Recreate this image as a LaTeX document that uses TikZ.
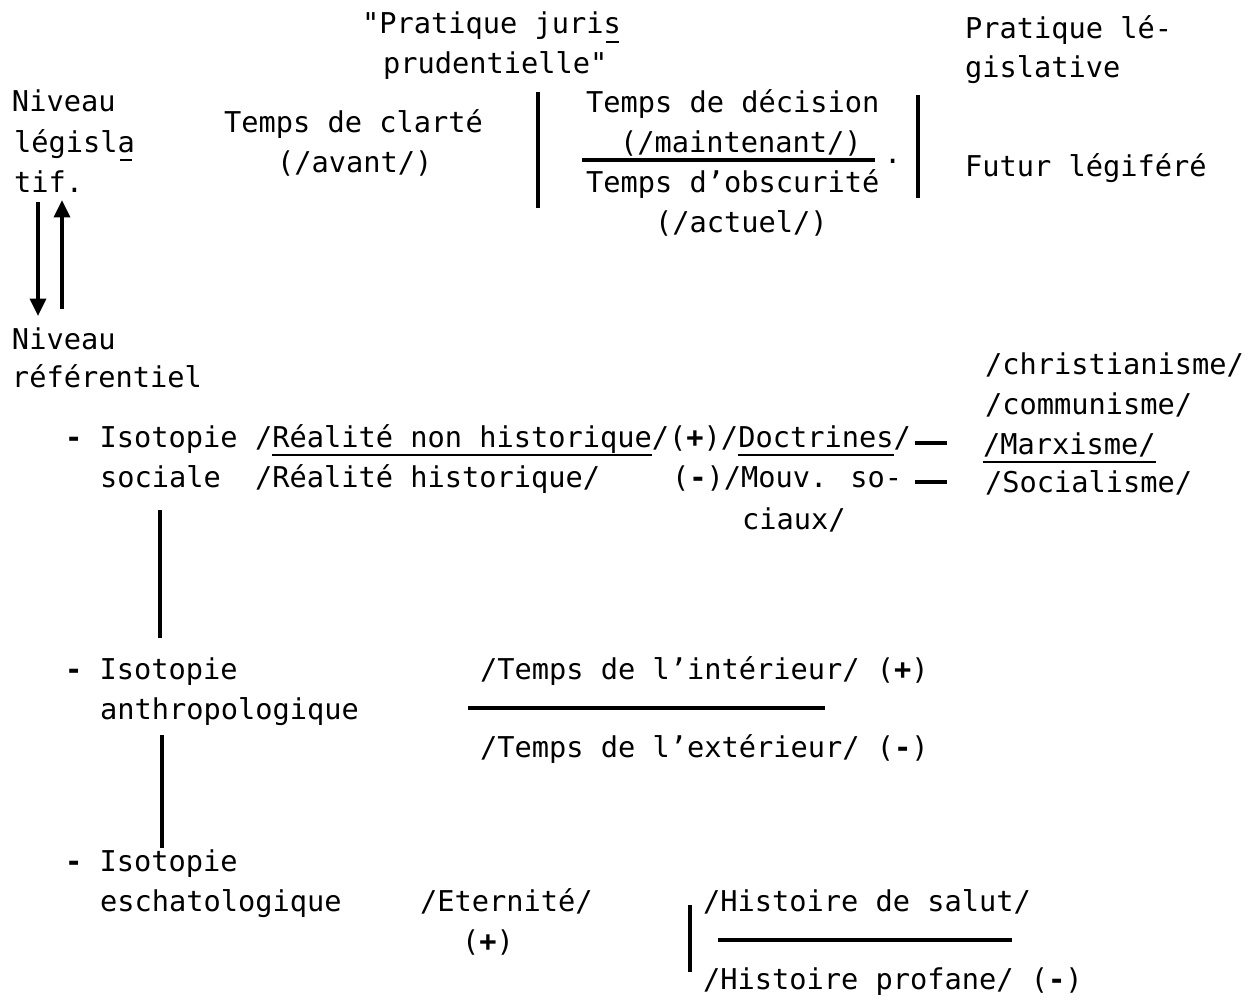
\documentclass[tikz,border=0pt]{standalone}
\usepackage{fontspec}
\usetikzlibrary{arrows.meta}
\newfontfamily\tw{DejaVu Sans Mono}
% short typewriter underscore under one letter
\newcommand\ulc[1]{\mbox{\rlap{\hspace{0.1em}\rule[-0.32em]{0.42em}{0.09em}}#1}}
% underline at a fixed depth under a run of text
\newcommand\uln[1]{\mbox{\setbox0\hbox{#1}\rlap{\rule[-0.3em]{\wd0}{0.07em}}\box0}}
\begin{document}
\begin{tikzpicture}[x=0.75pt,y=-0.75pt,
  every node/.style={inner sep=0pt,outer sep=0pt,anchor=base west,
    font=\tw\fontsize{21.5}{26}\selectfont},
  bar/.style={line width=2.6pt},
  frac/.style={line width=2.4pt},
  link/.style={line width=2.6pt},
  arr/.style={line width=2.6pt,-{Triangle[length=13pt,width=12pt]}}]
\useasboundingbox (0,0) rectangle (1251,999);

% --- top block: legislative level
\node (pj) at (362,34) {"Pratique juri\ulc{s}};
\node (pr) at (383,74) {prudentielle"};
\node (pl) at (965,39) {Pratique lé-};
\node (gl) at (965,77) {gislative};

\node (nv1) at (12,111) {Niveau};
\node (lg) at (14,152) {législ\ulc{a}};
\node (tf) at (14,192) {tif.};

\node (tc) at (224,132) {Temps de clarté};
\node (av) at (277,172) {(/avant/)};

\coordinate (b1t) at (538,92);
\coordinate (b1b) at (538,208);
\draw[bar] (b1t) -- (b1b);

\node (td) at (586,112) {Temps de décision};
\node (mt) at (620,152) {(/maintenant/)};
\coordinate (f1l) at (582,160);
\coordinate (f1r) at (875,160);
\draw[frac] (f1l) -- (f1r);
\node (dot) at (884,163) {.};
\node (to) at (586,192) {Temps d’obscurité};
\node (ac) at (655,232) {(/actuel/)};

\coordinate (b2t) at (918,95);
\coordinate (b2b) at (918,198);
\draw[bar] (b2t) -- (b2b);

\node (fl) at (965,176) {Futur légiféré};

% --- arrows between the two levels
\coordinate (d1) at (38,202);
\coordinate (d2) at (38,316);
\coordinate (u1) at (62,309);
\coordinate (u2) at (62,200);
\draw[arr] (d1) -- (d2);
\draw[arr] (u1) -- (u2);

% --- referential level
\node (nv2) at (12,349) {Niveau};
\node (rf) at (12,387) {référentiel};

% social isotopy
\node (is1) at (65,447) {{\bfseries -} Isotopie};
\node (so) at (100,487) {sociale};
\node (rn) at (255,447) {/\uln{Réalité non historique}/({\bfseries +})/\uln{Doctrines}/};
\node (rh) at (255,487) {/Réalité historique/};
\node (mv) at (672,487) {({\bfseries -})/Mouv. so-};
\node (ci) at (742,529) {ciaux/};

\coordinate (l1a) at (915,443);
\coordinate (l1b) at (947,443);
\coordinate (l2a) at (915,482);
\coordinate (l2b) at (947,482);
\draw[link] (l1a) -- (l1b);
\draw[link] (l2a) -- (l2b);

\node (ch) at (985,374) {/christianisme/};
\node (co) at (985,414) {/communisme/};
\node (ma) at (983,454) {\uln{/Marxisme/}};
\node (sc) at (985,492) {/Socialisme/};

\coordinate (v1t) at (160,510);
\coordinate (v1b) at (160,638);
\draw[bar] (v1t) -- (v1b);

% anthropological isotopy
\node (is2) at (65,679) {{\bfseries -} Isotopie};
\node (an) at (100,719) {anthropologique};
\node (ti) at (480,679) {/Temps de l’intérieur/ ({\bfseries +})};
\coordinate (f2l) at (468,708);
\coordinate (f2r) at (825,708);
\draw[frac] (f2l) -- (f2r);
\node (te) at (480,757) {/Temps de l’extérieur/ ({\bfseries -})};

\coordinate (v2t) at (162,735);
\coordinate (v2b) at (162,848);
\draw[bar] (v2t) -- (v2b);

% eschatological isotopy
\node (is3) at (65,871) {{\bfseries -} Isotopie};
\node (es) at (100,911) {eschatologique};
\node (et) at (420,911) {/Eternité/};
\node (ep) at (462,951) {({\bfseries +})};

\coordinate (b3t) at (690,905);
\coordinate (b3b) at (690,972);
\draw[bar] (b3t) -- (b3b);
\node (hs) at (703,911) {/Histoire de salut/};
\coordinate (f3l) at (718,940);
\coordinate (f3r) at (1012,940);
\draw[frac] (f3l) -- (f3r);
\node (hp) at (703,989) {/Histoire profane/ ({\bfseries -})};
\end{tikzpicture}
\end{document}
